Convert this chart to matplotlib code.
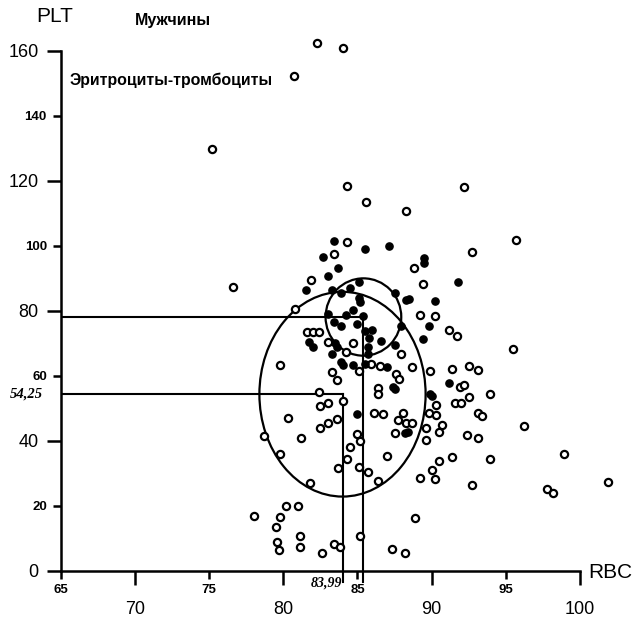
"""
plot.py — RBC vs PLT scatter (men), with two confidence ellipses
"""

import matplotlib
matplotlib.use("Agg")
import matplotlib.pyplot as plt
from matplotlib.patches import Ellipse

plt.rcParams['font.family'] = ['Liberation Sans', 'DejaVu Sans']

# ──────────────────────────────────────────────
# Data
# ──────────────────────────────────────────────

# filled markers
filled_rbc = [83.4, 85.5, 87.1, 82.7, 89.5, 89.5, 83.7, 83.0, 91.8, 85.1,
              81.5, 83.3, 84.5, 83.9, 87.5, 85.1, 85.2, 88.3, 88.5, 90.2,
              84.7, 83.0, 84.2, 85.4, 83.4, 85.0, 83.9, 87.9, 89.8, 85.5,
              86.0, 89.4, 85.8, 85.7, 85.7, 86.6, 81.7, 82.0, 83.5, 83.6,
              87.5, 83.3, 83.9, 84.0, 84.7, 85.5, 87.0, 91.2, 87.4, 87.5,
              89.9, 90.0, 85.0, 88.2, 88.4]
filled_plt = [101.4, 98.9, 99.9, 96.4, 96.1, 94.7, 93.0, 90.7, 88.9, 88.9,
              86.3, 86.2, 86.8, 85.3, 85.3, 83.9, 82.5, 83.2, 83.6, 82.9,
              80.2, 78.8, 78.6, 78.4, 76.6, 75.8, 75.2, 75.2, 75.2, 73.7,
              74.1, 71.2, 71.6, 68.7, 66.5, 70.6, 70.3, 68.9, 70.0, 68.8,
              69.4, 66.6, 64.2, 63.2, 63.2, 63.4, 62.7, 57.8, 56.4, 55.8,
              54.2, 53.7, 48.2, 42.2, 42.5]

# open markers
open_rbc = [82.3, 84.0, 80.7, 75.2, 76.6, 84.3, 85.6, 88.3, 92.2, 95.7,
            92.7, 88.8, 89.4, 89.2, 90.2, 91.2, 91.7, 95.5, 87.9, 88.7,
            89.9, 91.4, 92.5, 93.1, 91.9, 92.2, 92.5, 93.9, 90.3, 91.6,
            92.0, 89.8, 90.3, 88.1, 93.1, 93.4, 90.7, 90.5, 89.6, 88.3,
            88.7, 96.2, 89.6, 92.4, 93.1, 90.5, 91.4, 93.9, 90.0, 89.2,
            90.2, 92.7, 98.9, 97.8, 98.2, 101.9, 84.3, 83.4, 81.9, 80.8,
            81.6, 82.0, 82.4, 83.0, 84.7, 84.2, 79.8, 83.3, 83.6, 82.4,
            84.0, 82.5, 83.0, 80.3, 83.6, 82.5, 83.0, 78.7, 81.2, 79.8,
            84.5, 84.3, 85.1, 85.9, 86.5, 87.6, 87.8, 86.4, 86.4, 86.1,
            86.7, 87.7, 87.5, 85.0, 85.2, 87.0, 83.7, 85.1, 85.7, 86.4,
            81.8, 78.0, 80.2, 81.0, 79.8, 79.5, 81.1, 79.6, 79.7, 81.1,
            82.6, 83.4, 83.8, 85.2, 88.9, 87.3, 88.2]
open_plt = [162.3, 160.8, 152.2, 129.7, 87.2, 118.3, 113.5, 110.6, 117.9, 101.6,
            97.9, 93.0, 88.2, 78.6, 78.2, 74.1, 72.2, 68.2, 66.6, 62.7,
            61.4, 61.9, 63.0, 61.7, 56.6, 57.1, 53.3, 54.2, 50.9, 51.4,
            51.4, 48.4, 47.9, 48.4, 48.4, 47.6, 44.8, 42.5, 43.7, 45.3,
            45.3, 44.5, 40.1, 41.7, 40.7, 33.8, 35.0, 34.2, 30.8, 28.4,
            28.2, 26.3, 35.8, 25.2, 23.9, 27.2, 101.0, 97.5, 89.3, 80.5,
            73.5, 73.3, 73.5, 70.4, 70.0, 67.3, 63.2, 61.0, 58.6, 54.8,
            52.2, 50.6, 51.4, 46.8, 46.5, 43.8, 45.4, 41.4, 40.7, 35.8,
            38.1, 34.3, 61.4, 63.5, 63.0, 60.5, 58.8, 56.1, 54.3, 48.6,
            48.2, 46.3, 42.2, 41.9, 39.8, 35.3, 31.4, 31.9, 30.2, 27.5,
            26.8, 16.9, 19.9, 19.8, 16.4, 13.3, 10.5, 8.7, 6.3, 7.3,
            5.5, 8.1, 7.1, 10.5, 16.1, 6.6, 5.3]

# ellipse centres (the two marked means) and half-axes
big_center = (83.99, 54.25)
big_half = (5.6, 31.5)
small_center = (85.4, 78.0)
small_half = (2.55, 11.9)

x_major = [70, 80, 90, 100]
x_minor = [65, 75, 85, 95]
y_major = [0, 40, 80, 120, 160]
y_minor = [20, 60, 100, 140]

# ──────────────────────────────────────────────
# Figure
# ──────────────────────────────────────────────

W, H = 639, 619
fig = plt.figure(figsize=(W / 100, H / 100), dpi=100)
# axes: x 65..103, y 0..165 (spines only drawn to 100 / 160)
ax = fig.add_axes([60.7 / W, (H - 570.5) / H, (624.6 - 60.7) / W, (570.5 - 34.3) / H])
ax.set_xlim(65, 103)
ax.set_ylim(0, 165)

ax.plot(open_rbc, open_plt, "o", ms=5.2, mfc="white", mec="black", mew=1.6,
        clip_on=False, zorder=3)
ax.plot(filled_rbc, filled_plt, "o", ms=5.2, mfc="black", mec="black", mew=1.0,
        clip_on=False, zorder=3)

for c, (a, b) in [(big_center, big_half), (small_center, small_half)]:
    ax.add_patch(Ellipse(c, 2 * a, 2 * b, fill=False, lw=1.6, ec="black", zorder=2))
    # guide lines from the axes to the centre
    ax.plot([65, c[0]], [c[1], c[1]], color="black", lw=1.5, zorder=2)
    ax.plot([c[0], c[0]], [c[1], -3.5], color="black", lw=1.5, zorder=2, clip_on=False)

for side in ["top", "right"]:
    ax.spines[side].set_visible(False)
for side in ["left", "bottom"]:
    ax.spines[side].set_linewidth(1.8)
ax.spines["bottom"].set_bounds(65, 100)
ax.spines["left"].set_bounds(0, 160)

ax.set_xticks(x_major)
ax.set_xticklabels([str(v) for v in x_major])
ax.set_xticks(x_minor, minor=True)
ax.set_xticklabels([str(v) for v in x_minor], minor=True, fontweight="bold")
ax.set_yticks(y_major)
ax.set_yticklabels([str(v) for v in y_major])
ax.set_yticks(y_minor, minor=True)
ax.set_yticklabels([str(v) for v in y_minor], minor=True, fontweight="bold")

ax.tick_params(which="major", length=10, width=1.8, labelsize=13, pad=6)
ax.tick_params(which="minor", length=6, width=1.8, labelsize=9.5, pad=4)
ax.tick_params(axis="x", which="major", pad=12)

# ──────────────────────────────────────────────
# Texts
# ──────────────────────────────────────────────

narrow = ["Liberation Sans Narrow", "Liberation Sans", "DejaVu Sans"]
fig.text(36 / W, 1 - 17 / H, "PLT", fontsize=15, va="center", ha="left")
fig.text(588 / W, 1 - 572 / H, "RBC", fontsize=15, va="center", ha="left")
fig.text(135 / W, 1 - 20 / H, "Мужчины", fontsize=11.5, fontweight="bold",
         va="center", ha="left", family=narrow)
fig.text(70 / W, 1 - 80 / H, "Эритроциты-тромбоциты", fontsize=11.4, fontweight="bold",
         va="center", ha="left", family=narrow)

ax.annotate("54,25", (65, big_center[1]), xytext=(-13, 0), textcoords="offset points",
            ha="right", va="center", fontsize=10.5, fontstyle="italic", fontweight="bold",
            family=["Liberation Serif", "DejaVu Serif"])
ax.annotate("83,99", (big_center[0], 0), xytext=(0, -4), textcoords="offset points",
            ha="right", va="top", fontsize=10, fontstyle="italic", fontweight="bold",
            family=["Liberation Serif", "DejaVu Serif"])

plt.savefig("out.png", dpi=100)
